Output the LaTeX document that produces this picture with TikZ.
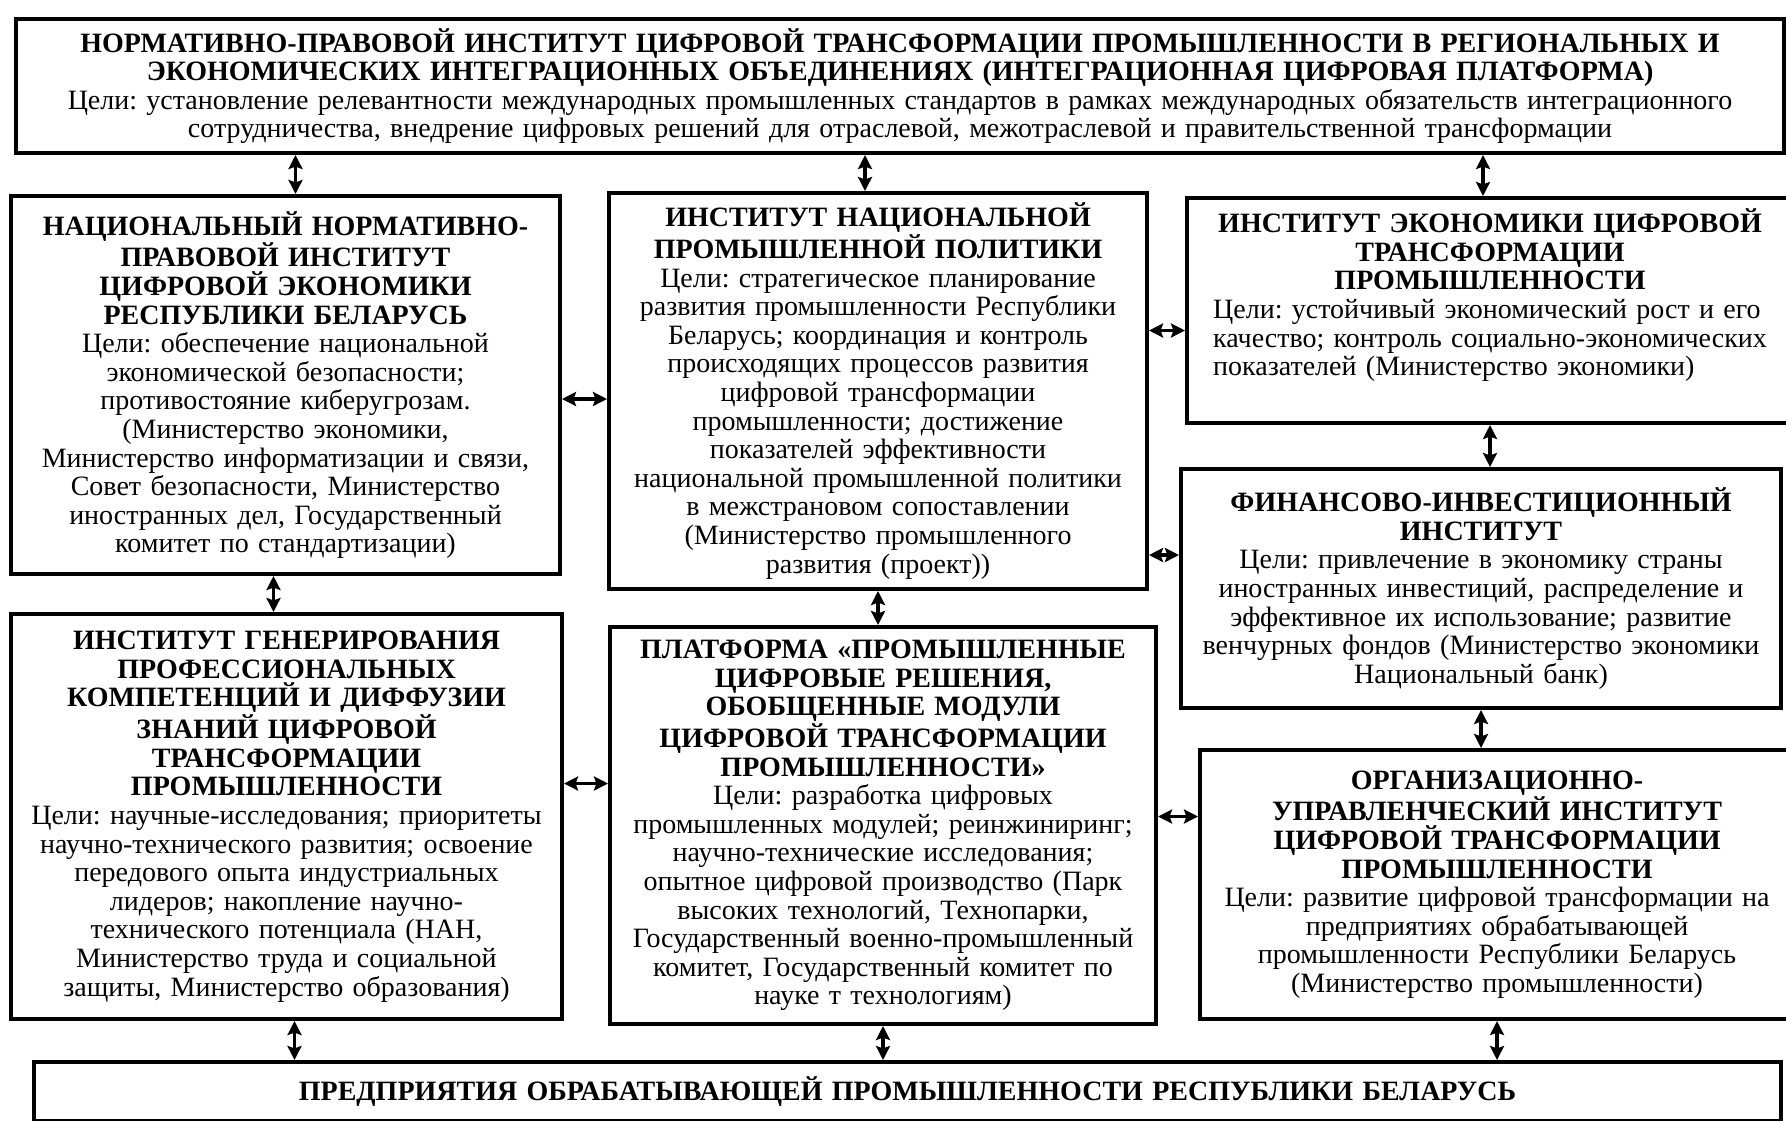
\documentclass[tikz,border=0pt]{standalone}
\usepackage{fontspec}
\setmainfont{Liberation Serif}
\usetikzlibrary{arrows.meta,calc}
\frenchspacing

\tikzset{
  box/.style={draw,line width=2pt,anchor=north west,align=center,inner sep=2pt,
    font=\fontsize{14}{14.3}\selectfont},
  link/.style={<->,line width=1.8pt}
}

\begin{document}
\begin{tikzpicture}[x=0.5pt,y=-0.5pt,>={Stealth[length=7pt,width=7pt,inset=1.2pt]}]
\useasboundingbox (0,0) rectangle (1786,1120);
\clip (0,0) rectangle (1786,1120);
% top level
\node[box,minimum width=884pt,minimum height=67pt,text width=878pt] (T) at (14,17)
  {\textbf{НОРМАТИВНО-ПРАВОВОЙ ИНСТИТУТ ЦИФРОВОЙ ТРАНСФОРМАЦИИ ПРОМЫШЛЕННОСТИ В РЕГИОНАЛЬНЫХ И}\\
   \textbf{ЭКОНОМИЧЕСКИХ ИНТЕГРАЦИОННЫХ ОБЪЕДИНЕНИЯХ (ИНТЕГРАЦИОННАЯ ЦИФРОВАЯ ПЛАТФОРМА)}\\
   Цели: установление релевантности международных промышленных стандартов в рамках международных обязательств интеграционного\\
   сотрудничества, внедрение цифровых решений для отраслевой, межотраслевой и правительственной трансформации};
% left column
\node[box,minimum width=274.5pt,minimum height=189pt,text width=268pt] (A) at (9,194)
  {\textbf{НАЦИОНАЛЬНЫЙ НОРМАТИВНО-}\\\textbf{ПРАВОВОЙ ИНСТИТУТ}\\\textbf{ЦИФРОВОЙ ЭКОНОМИКИ}\\\textbf{РЕСПУБЛИКИ БЕЛАРУСЬ}\\
   Цели: обеспечение национальной\\экономической безопасности;\\противостояние киберугрозам.\\(Министерство экономики,\\
   Министерство информатизации и связи,\\Совет безопасности, Министерство\\иностранных дел, Государственный\\комитет по стандартизации)};
\node[box,minimum width=275.5pt,minimum height=202.5pt,text width=269pt] (E) at (9,612)
  {\textbf{ИНСТИТУТ ГЕНЕРИРОВАНИЯ}\\\textbf{ПРОФЕССИОНАЛЬНЫХ}\\\textbf{КОМПЕТЕНЦИЙ И ДИФФУЗИИ}\\\textbf{ЗНАНИЙ ЦИФРОВОЙ}\\\textbf{ТРАНСФОРМАЦИИ}\\\textbf{ПРОМЫШЛЕННОСТИ}\\
   Цели: научные-исследования; приоритеты\\научно-технического развития; освоение\\передового опыта индустриальных\\лидеров; накопление научно-\\
   технического потенциала (НАН,\\Министерство труда и социальной\\защиты, Министерство образования)};
% middle column
\node[box,minimum width=269pt,minimum height=198pt,text width=263pt] (B) at (607,191)
  {\textbf{ИНСТИТУТ НАЦИОНАЛЬНОЙ}\\\textbf{ПРОМЫШЛЕННОЙ ПОЛИТИКИ}\\
   Цели: стратегическое планирование\\развития промышленности Республики\\Беларусь; координация и контроль\\происходящих процессов развития\\
   цифровой трансформации\\промышленности; достижение\\показателей эффективности\\национальной промышленной политики\\
   в межстрановом сопоставлении\\(Министерство промышленного\\развития (проект))};
\node[box,minimum width=273pt,minimum height=198.5pt,text width=267pt] (F) at (608,625)
  {\textbf{ПЛАТФОРМА «ПРОМЫШЛЕННЫЕ}\\\textbf{ЦИФРОВЫЕ РЕШЕНИЯ,}\\\textbf{ОБОБЩЕННЫЕ МОДУЛИ}\\\textbf{ЦИФРОВОЙ ТРАНСФОРМАЦИИ}\\\textbf{ПРОМЫШЛЕННОСТИ»}\\
   Цели: разработка цифровых\\промышленных модулей; реинжиниринг;\\научно-технические исследования;\\опытное цифровой производство (Парк\\
   высоких технологий, Технопарки,\\Государственный военно-промышленный\\комитет, Государственный комитет по\\науке т технологиям)};
% right column
\node[box,minimum width=303pt,minimum height=112.5pt,text width=296pt] (C) at (1185,196)
  {\textbf{ИНСТИТУТ ЭКОНОМИКИ ЦИФРОВОЙ}\\\textbf{ТРАНСФОРМАЦИИ}\\\textbf{ПРОМЫШЛЕННОСТИ}\\
   \begin{tabular}[t]{@{}l@{}}Цели: устойчивый экономический рост и его\\качество; контроль социально-экономических\\показателей (Министерство экономики)\\[14pt]\end{tabular}};
\node[box,minimum width=300pt,minimum height=119.5pt,text width=294pt] (D) at (1179,467)
  {\textbf{ФИНАНСОВО-ИНВЕСТИЦИОННЫЙ}\\\textbf{ИНСТИТУТ}\\
   Цели: привлечение в экономику страны\\иностранных инвестиций, распределение и\\эффективное их использование; развитие\\
   венчурных фондов (Министерство экономики\\Национальный банк)};
\node[box,minimum width=297pt,minimum height=134.5pt,text width=291pt] (G) at (1198,748)
  {\textbf{ОРГАНИЗАЦИОННО-}\\\textbf{УПРАВЛЕНЧЕСКИЙ ИНСТИТУТ}\\\textbf{ЦИФРОВОЙ ТРАНСФОРМАЦИИ}\\\textbf{ПРОМЫШЛЕННОСТИ}\\
   Цели: развитие цифровой трансформации на\\предприятиях обрабатывающей\\промышленности Республики Беларусь\\(Министерство промышленности)};
% bottom level
\node[box,minimum width=873.5pt,minimum height=29.5pt,text width=866pt] (H) at (32,1060)
  {\textbf{ПРЕДПРИЯТИЯ ОБРАБАТЫВАЮЩЕЙ ПРОМЫШЛЕННОСТИ РЕСПУБЛИКИ БЕЛАРУСЬ}};
% links
\draw[link] ($(A.north)+(10,0)$) coordinate (ta) -- (ta |- T.south);
\draw[link] ($(B.north)+(-13,0)$) coordinate (tb) -- (tb |- T.south);
\draw[link] ($(C.north)+(-7,0)$) coordinate (tc) -- (tc |- T.south);
\draw[link] ($(A.east)+(0,14)$) coordinate (ab) -- (ab -| B.west);
\draw[link] ($(C.west)+(0,20)$) coordinate (bc) -- (bc -| B.east);
\draw[link] ($(B.south east)+(0,-36)$) coordinate (bd) -- (bd -| D.west);
\draw[link] (C.south) -- (C.south |- D.north);
\draw[link] ($(A.south)+(-12,0)$) coordinate (ae) -- (ae |- E.north);
\draw[link] (B.south) -- (B.south |- F.north);
\draw[link] (D.south) -- (D.south |- G.north);
\draw[link] ($(E.east)+(0,-33)$) coordinate (ef) -- (ef -| F.west);
\draw[link] ($(F.east)+(0,-9)$) coordinate (fg) -- (fg -| G.west);
\draw[link] ($(E.south)+(8,0)$) coordinate (eh) -- (eh |- H.north);
\draw[link] (F.south) -- (F.south |- H.north);
\draw[link] (G.south) -- (G.south |- H.north);
\end{tikzpicture}
\end{document}
